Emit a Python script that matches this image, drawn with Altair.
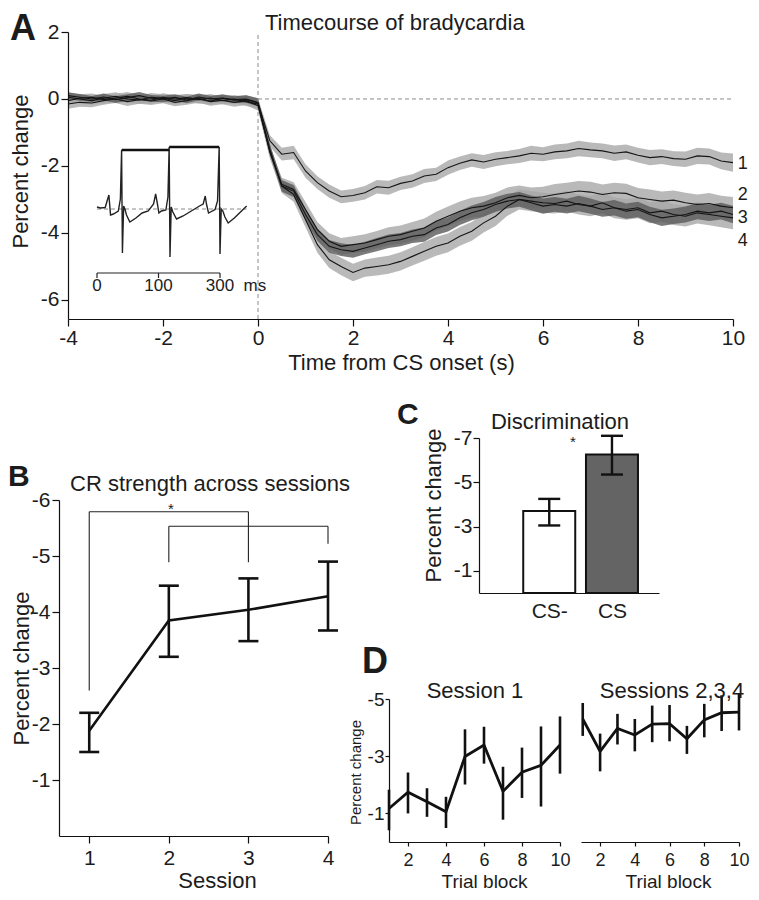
import altair as alt
import pandas as pd

FONT = "Liberation Sans"
INK = "#1c1c1c"

# ---------------- Panel A: timecourse of bradycardia ----------------
time_s = [round(-4 + 0.25 * i, 2) for i in range(57)]

s1_mean = [0.05, 0.0, -0.05, 0.02, 0.08, 0.0, -0.03, 0.05, 0.02, -0.05, 0.03, 0.0, -0.06, 0.02, -0.04, -0.02,
           -0.12, -1.25, -1.65, -1.6, -2.15, -2.5, -2.75, -2.92, -2.88, -2.8, -2.62, -2.65, -2.52, -2.45, -2.3, -2.25,
           -2.05, -1.92, -1.82, -1.88, -1.8, -1.75, -1.7, -1.62, -1.65, -1.58, -1.55, -1.48, -1.52, -1.55, -1.62, -1.58,
           -1.68, -1.75, -1.72, -1.78, -1.8, -1.7, -1.72, -1.85, -1.9]
s2_mean = [-0.05, 0.02, 0.05, -0.02, 0.03, 0.08, 0.0, -0.04, 0.05, 0.0, 0.04, -0.02, 0.03, -0.05, 0.0, -0.08,
           -0.15, -1.6, -2.55, -2.7, -3.3, -3.9, -4.25, -4.4, -4.35, -4.3, -4.2, -4.1, -4.05, -3.95, -3.85, -3.65,
           -3.5, -3.35, -3.25, -3.2, -3.1, -2.95, -2.88, -2.95, -2.92, -2.85, -2.8, -2.75, -2.78, -2.85, -2.8, -2.82,
           -2.95, -3.0, -3.05, -3.02, -3.1, -3.15, -3.12, -3.2, -3.25]
s3_mean = [0.1, 0.05, 0.0, 0.06, -0.02, 0.04, 0.1, 0.02, 0.0, 0.05, -0.03, 0.06, 0.0, 0.03, -0.02, 0.0,
           -0.1, -1.5, -2.6, -2.75, -3.45, -4.05, -4.4, -4.5, -4.55, -4.45, -4.35, -4.25, -4.2, -4.1, -4.05, -3.85,
           -3.75, -3.55, -3.4, -3.3, -3.15, -3.05, -3.0, -3.1, -3.2, -3.15, -3.2, -3.12, -3.2, -3.3, -3.25, -3.35,
           -3.3, -3.45, -3.55, -3.5, -3.45, -3.35, -3.4, -3.35, -3.45]
s4_mean = [-0.15, -0.1, -0.12, -0.05, 0.0, -0.08, -0.02, -0.06, 0.0, -0.1, -0.05, 0.02, -0.08, -0.04, -0.1, -0.05,
           -0.2, -1.55, -2.6, -2.85, -3.6, -4.35, -4.8, -5.0, -5.18, -5.05, -5.0, -4.95, -4.85, -4.7, -4.55, -4.4,
           -4.3, -4.1, -3.95, -3.7, -3.5, -3.2, -3.0, -3.05, -3.1, -3.12, -3.05, -3.15, -3.2, -3.1, -3.25, -3.3,
           -3.25, -3.4, -3.35, -3.45, -3.5, -3.4, -3.45, -3.5, -3.55]

s1_sem = [0.14, 0.13, 0.12, 0.13, 0.12, 0.11, 0.12, 0.13, 0.12, 0.11, 0.12, 0.12, 0.11, 0.12, 0.12, 0.13,
          0.14, 0.17, 0.19, 0.2, 0.2, 0.19, 0.2, 0.19, 0.19, 0.2, 0.2, 0.21, 0.2, 0.2, 0.21, 0.2,
          0.21, 0.2, 0.2, 0.21, 0.21, 0.2, 0.21, 0.22, 0.21, 0.22, 0.22, 0.23, 0.22, 0.22, 0.23, 0.22,
          0.22, 0.23, 0.22, 0.22, 0.23, 0.24, 0.24, 0.25, 0.27]
s2_sem = [0.12, 0.12, 0.11, 0.12, 0.12, 0.13, 0.12, 0.11, 0.12, 0.12, 0.11, 0.12, 0.12, 0.11, 0.12, 0.13,
          0.14, 0.18, 0.2, 0.21, 0.22, 0.23, 0.24, 0.25, 0.25, 0.26, 0.26, 0.27, 0.27, 0.28, 0.28, 0.28,
          0.29, 0.29, 0.3, 0.3, 0.3, 0.31, 0.3, 0.31, 0.3, 0.31, 0.3, 0.3, 0.31, 0.3, 0.3, 0.29,
          0.29, 0.3, 0.29, 0.29, 0.3, 0.3, 0.31, 0.31, 0.32]
s3_sem = [0.1, 0.1, 0.09, 0.1, 0.1, 0.1, 0.11, 0.1, 0.1, 0.09, 0.1, 0.1, 0.1, 0.1, 0.1, 0.11,
          0.12, 0.15, 0.17, 0.18, 0.18, 0.18, 0.19, 0.19, 0.19, 0.19, 0.2, 0.2, 0.2, 0.2, 0.21, 0.21,
          0.21, 0.21, 0.22, 0.22, 0.22, 0.22, 0.22, 0.22, 0.23, 0.22, 0.22, 0.23, 0.23, 0.22, 0.23, 0.23,
          0.23, 0.23, 0.24, 0.23, 0.24, 0.24, 0.24, 0.25, 0.26]
s4_sem = [0.14, 0.13, 0.13, 0.12, 0.12, 0.13, 0.12, 0.12, 0.13, 0.12, 0.12, 0.13, 0.12, 0.12, 0.13, 0.13,
          0.15, 0.19, 0.21, 0.22, 0.23, 0.24, 0.25, 0.26, 0.26, 0.26, 0.27, 0.27, 0.27, 0.27, 0.28, 0.28,
          0.28, 0.28, 0.28, 0.29, 0.29, 0.29, 0.3, 0.3, 0.3, 0.3, 0.31, 0.3, 0.3, 0.31, 0.31, 0.31,
          0.31, 0.31, 0.32, 0.31, 0.31, 0.32, 0.32, 0.33, 0.34]

series_names = ["1", "2", "3", "4"]
band_fill = {"1": "#a8a8a8", "2": "#a8a8a8", "3": "#5a5a5a", "4": "#a8a8a8"}
band_order = ["1", "2", "4", "3"]
end_label_x = [10.1, 10.1, 10.1, 10.1]
end_label_y = [-1.93, -2.86, -3.54, -4.23]

# inset ECG trace (ms, arbitrary units)
ecg_ms = [0, 8, 20, 26, 29, 33, 40, 52, 57, 60, 62, 65, 68, 72, 80, 95, 110, 125, 138, 143, 147, 151, 157, 168,
          173, 176, 178, 181, 185, 194, 210, 230, 250, 259, 264, 267, 272, 288, 294, 298, 300, 303, 307, 312,
          320, 335, 350, 365]
ecg_val = [0.2, 0.1, 0.15, 1.0, 1.4, -0.6, -0.5, -0.2, 1.0, 5.9, -4.4, 0.3, 0.0, -0.6, -1.3, -0.9, -0.4, -0.2,
           0.5, 1.5, 0.6, -0.4, -0.2, -0.1, 1.2, 6.2, -4.8, 0.2, -0.3, -1.0, -0.7, -0.2, 0.3, 0.5, 1.3, 0.5,
           -0.4, -0.05, 0.8, 6.2, -4.5, 0.0, -0.2, -0.8, -1.4, -0.9, -0.3, 0.3]
rr_start = [60, 176]
rr_end = [176, 298]
rr_level = [5.9, 6.2]
inset_base_span = [0, 365]
inset_axis_span = [0, 300]
inset_axis_level = -6.4
inset_ticks = [0, 150, 300]
inset_tick_text = ["0", "100", "300"]
inset_unit_x = [385]

# ---------------- Panel B: CR strength across sessions ----------------
sessions = [1, 2, 3, 4]
b_mean = [-1.88, -3.85, -4.04, -4.28]
b_upper = [-2.2, -4.47, -4.6, -4.9]
b_lower = [-1.5, -3.2, -3.48, -3.67]
br_x = [1, 1, 3, 2, 2, 4]
br_x2 = [1, 3, 3, 2, 4, 4]
br_y = [-2.6, -5.79, -5.79, -4.89, -5.53, -5.53]
br_y2 = [-5.79, -5.79, -4.89, -5.53, -5.53, -5.22]

# ---------------- Panel C: discrimination ----------------
c_cond = ["CS-", "CS"]
c_pos = [1, 2]
c_mean = [-3.7, -6.25]
c_upper = [-4.25, -7.1]
c_lower = [-3.05, -5.35]
c_fill = ["#ffffff", "#646464"]

# ---------------- Panel D: trial blocks ----------------
blocks = [1, 2, 3, 4, 5, 6, 7, 8, 9, 10]
d1_mean = [-1.17, -1.74, -1.41, -1.06, -2.99, -3.39, -1.77, -2.44, -2.68, -3.39]
d1_upper = [-1.83, -2.43, -1.88, -1.58, -3.94, -4.03, -2.63, -3.3, -4.04, -4.39]
d1_lower = [-0.41, -1.0, -0.88, -0.49, -2.01, -2.74, -0.78, -1.54, -1.24, -2.39]
d2_mean = [-4.3, -3.17, -3.97, -3.74, -4.12, -4.14, -3.61, -4.27, -4.52, -4.54]
d2_upper = [-4.86, -3.79, -4.48, -4.3, -4.77, -4.79, -4.06, -4.83, -5.13, -5.19]
d2_lower = [-3.71, -2.47, -3.41, -3.17, -3.49, -3.52, -3.08, -3.66, -3.88, -3.9]

# ---------------- layout (pixels in the single 743x884 canvas) ----------------
W, H = 743, 884
LABEL_EXPR = "toString(datum.value)"


def sc(domain, rng):
    return alt.Scale(domain=domain, range=rng, nice=False, zero=False)


def x_axis(values, title, y_px, title_x, title_y, tick=7, pad=1, lsize=21, tsize=22, expr=LABEL_EXPR):
    return alt.Axis(orient="bottom", offset=-(H - y_px), values=values, title=title, labelExpr=expr,
                    tickSize=tick, labelPadding=pad, labelFontSize=lsize, titleFontSize=tsize,
                    titleX=title_x, titleY=title_y, titleAlign="center", titleBaseline="middle",
                    labelFlush=False, labelOverlap=False, zindex=1)


def y_axis(values, title, x_px, title_x, title_y, tick=7, pad=2, lsize=21, tsize=22):
    return alt.Axis(orient="left", offset=-x_px, values=values, title=title, labelExpr=LABEL_EXPR,
                    tickSize=tick, labelPadding=pad, labelFontSize=lsize, titleFontSize=tsize,
                    titleX=title_x, titleY=title_y, titleAngle=270, titleAlign="center",
                    titleBaseline="middle", labelFlush=False, labelOverlap=False, zindex=1)


def note(text, x, y, size, weight="normal", align="left", baseline="middle"):
    return alt.Chart(pd.DataFrame({"label": [text]})).mark_text(
        align=align, baseline=baseline, fontSize=size, fontWeight=weight, font=FONT, color=INK
    ).encode(x=alt.value(x), y=alt.value(y), text="label:N")


# ================= Panel A =================
xA = sc([-4, 10], [60, 725])
yA = sc([-6.57, 2], [311, 24])
axA_x = x_axis([-4, -2, 0, 2, 4, 6, 8, 10], "Time from CS onset (s)", 311, 393, 43, tick=7, pad=1)
axA_y = y_axis([-6, -4, -2, 0, 2], "Percent change", 60, -48, 163, tick=7, pad=2)


def XA(f):
    return alt.X(f, scale=xA, axis=axA_x)


def YA(f):
    return alt.Y(f, scale=yA, axis=axA_y, stack=None)


rows = []
for name, m, e in zip(series_names, [s1_mean, s2_mean, s3_mean, s4_mean], [s1_sem, s2_sem, s3_sem, s4_sem]):
    for t, mv, ev in zip(time_s, m, e):
        rows.append({"series": name, "t": t, "mean": mv, "lo": round(mv - ev, 3), "hi": round(mv + ev, 3)})
df_a = pd.DataFrame(rows)

bands = [
    alt.Chart(df_a[df_a["series"] == name]).mark_area(color=band_fill[name], opacity=0.8).encode(
        x=XA("t:Q"), y=YA("lo:Q"), y2="hi:Q")
    for name in band_order
]
zero_line = alt.Chart(pd.DataFrame({"x0": [0], "x1": [10], "y": [0]})).mark_rule(
    color="#8a8a8a", strokeDash=[4, 3], strokeWidth=1).encode(x=XA("x0:Q"), x2="x1:Q", y=YA("y:Q"))
onset_line = alt.Chart(pd.DataFrame({"x": [0], "y0": [-6.57], "y1": [2]})).mark_rule(
    color="#8a8a8a", strokeDash=[4, 3], strokeWidth=1).encode(x=XA("x:Q"), y=YA("y0:Q"), y2="y1:Q")
lines_a = alt.Chart(df_a).mark_line(color="#151515", strokeWidth=1.1).encode(
    x=XA("t:Q"), y=YA("mean:Q"), detail="series:N")
end_labels = alt.Chart(pd.DataFrame({"s": series_names, "x": end_label_x, "y": end_label_y})).mark_text(
    align="left", baseline="middle", fontSize=18, font=FONT, color=INK
).encode(x=XA("x:Q"), y=YA("y:Q"), text="s:N")
mainA = alt.layer(*bands, zero_line, onset_line, lines_a, end_labels)

xI = sc([0, 300], [89, 212])
yI = sc([-9, 7], [291, 131])


def XI(f):
    return alt.X(f, scale=xI, axis=None)


def YI(f):
    return alt.Y(f, scale=yI, axis=None)


ecg = alt.Chart(pd.DataFrame({"ms": ecg_ms, "v": ecg_val})).mark_line(color="#222222", strokeWidth=1.4).encode(
    x=XI("ms:Q"), y=YI("v:Q"))
rr = alt.Chart(pd.DataFrame({"a": rr_start, "b": rr_end, "v": rr_level})).mark_rule(
    color="#111111", strokeWidth=2.4).encode(x=XI("a:Q"), x2="b:Q", y=YI("v:Q"))
inset_base = alt.Chart(pd.DataFrame({"a": [inset_base_span[0]], "b": [inset_base_span[1]], "v": [0]})).mark_rule(
    color="#8a8a8a", strokeDash=[4, 3], strokeWidth=1).encode(x=XI("a:Q"), x2="b:Q", y=YI("v:Q"))
inset_axis = alt.Chart(pd.DataFrame({"a": [inset_axis_span[0]], "b": [inset_axis_span[1]],
                                     "v": [inset_axis_level]})).mark_rule(color="#222222", strokeWidth=1.2).encode(
    x=XI("a:Q"), x2="b:Q", y=YI("v:Q"))
inset_tickmarks = alt.Chart(pd.DataFrame({"m": inset_ticks, "v0": [inset_axis_level] * 3,
                                          "v1": [inset_axis_level - 0.5] * 3})).mark_rule(
    color="#222222", strokeWidth=1.2).encode(x=XI("m:Q"), y=YI("v0:Q"), y2="v1:Q")
inset_ticklabels = alt.Chart(pd.DataFrame({"m": inset_ticks, "t": inset_tick_text,
                                           "v": [-7.7] * 3})).mark_text(
    fontSize=17, font=FONT, color=INK, baseline="middle").encode(x=XI("m:Q"), y=YI("v:Q"), text="t:N")
inset_unit = alt.Chart(pd.DataFrame({"m": inset_unit_x, "t": ["ms"], "v": [-7.7]})).mark_text(
    fontSize=17, font=FONT, color=INK, baseline="middle").encode(x=XI("m:Q"), y=YI("v:Q"), text="t:N")
insetA = alt.layer(inset_base, ecg, rr, inset_axis, inset_tickmarks, inset_ticklabels, inset_unit)

# ================= Panel B =================
B_BOTTOM = 828
xB = sc([0.62, 4], [51, 320])
yB = sc([-6, 0], [492, B_BOTTOM])
axB_x = x_axis(sessions, "Session", B_BOTTOM, 209, 44, tick=7, pad=4)
axB_y = y_axis([-6, -5, -4, -3, -2, -1], "Percent change", 51, -38, 660, tick=7, pad=2)


def XB(f):
    return alt.X(f, scale=xB, axis=axB_x)


def YB(f):
    return alt.Y(f, scale=yB, axis=axB_y)


dfB = pd.DataFrame({"session": sessions, "mean": b_mean, "upper": b_upper, "lower": b_lower})
lineB = alt.Chart(dfB).mark_line(color="#111111", strokeWidth=2.6).encode(x=XB("session:Q"), y=YB("mean:Q"))
errB = alt.Chart(dfB).mark_rule(color="#111111", strokeWidth=2.6).encode(
    x=XB("session:Q"), y=YB("upper:Q"), y2="lower:Q")
capB_u = alt.Chart(dfB).mark_tick(orient="horizontal", size=20, thickness=2.6, color="#111111", opacity=1).encode(
    x=XB("session:Q"), y=YB("upper:Q"))
capB_l = alt.Chart(dfB).mark_tick(orient="horizontal", size=20, thickness=2.6, color="#111111", opacity=1).encode(
    x=XB("session:Q"), y=YB("lower:Q"))
brackets = alt.Chart(pd.DataFrame({"x": br_x, "x2": br_x2, "y": br_y, "y2": br_y2})).mark_rule(
    color="#222222", strokeWidth=1.1).encode(x=XB("x:Q"), x2="x2:Q", y=YB("y:Q"), y2="y2:Q")
starB = alt.Chart(pd.DataFrame({"x": [2.025], "y": [-5.745], "t": ["*"]})).mark_text(
    fontSize=15, font=FONT, color=INK, baseline="alphabetic").encode(x=XB("x:Q"), y=YB("y:Q"), text="t:N")
panelB = alt.layer(lineB, brackets, errB, capB_u, capB_l, starB)

# ================= Panel C =================
xC = sc([-0.04, 2.67], [471, 651])
yC = sc([-7, 0], [430, 585])
axC_x = alt.Axis(orient="bottom", offset=-(H - 585), values=c_pos, labelExpr="datum.value == 1 ? 'CS-' : 'CS'",
                 ticks=False, tickSize=0, labelPadding=7, labelFontSize=21, title=None, labelFlush=False,
                 labelOverlap=False, zindex=1)
axC_y = y_axis([-7, -5, -3, -1], "Percent change", 471, -46, 497, tick=6, pad=1)


def XC(f):
    return alt.X(f, scale=xC, axis=axC_x)


def YC(f):
    return alt.Y(f, scale=yC, axis=axC_y)


dfC = pd.DataFrame({"cond": c_cond, "pos": c_pos, "mean": c_mean, "upper": c_upper, "lower": c_lower,
                    "base": [0, 0]})
barsC = alt.Chart(dfC).mark_bar(size=52, stroke="#111111", strokeWidth=2, opacity=1).encode(
    x=XC("pos:Q"), y=YC("mean:Q"), y2="base:Q",
    color=alt.Color("cond:N", scale=alt.Scale(domain=c_cond, range=c_fill), legend=None))
errC = alt.Chart(dfC).mark_rule(color="#111111", strokeWidth=2.4).encode(
    x=XC("pos:Q"), y=YC("upper:Q"), y2="lower:Q")
capC_u = alt.Chart(dfC).mark_tick(orient="horizontal", size=22, thickness=2.4, color="#111111", opacity=1).encode(
    x=XC("pos:Q"), y=YC("upper:Q"))
capC_l = alt.Chart(dfC).mark_tick(orient="horizontal", size=22, thickness=2.4, color="#111111", opacity=1).encode(
    x=XC("pos:Q"), y=YC("lower:Q"))
starC = alt.Chart(pd.DataFrame({"x": [1.376], "y": [-6.6], "t": ["*"]})).mark_text(
    fontSize=15, font=FONT, color=INK, baseline="alphabetic").encode(x=XC("x:Q"), y=YC("y:Q"), text="t:N")
panelC = alt.layer(barsC, errC, capC_u, capC_l, starC)

# ================= Panel D =================
D_TOP, D_BOTTOM = 691, 834


def d_panel(mean, upper, lower, xdomain, xrange, y_axis_def, tb_x):
    xs = sc(xdomain, xrange)
    ys = sc([-5, 0], [D_TOP, D_BOTTOM])
    ax_x = x_axis([2, 4, 6, 8, 10], "Trial block", D_BOTTOM, tb_x, 39, tick=4, pad=5, lsize=18, tsize=19)
    df = pd.DataFrame({"block": blocks, "mean": mean, "upper": upper, "lower": lower})
    line = alt.Chart(df).mark_line(color="#111111", strokeWidth=2.8).encode(
        x=alt.X("block:Q", scale=xs, axis=ax_x), y=alt.Y("mean:Q", scale=ys, axis=y_axis_def))
    err = alt.Chart(df).mark_rule(color="#111111", strokeWidth=2.6).encode(
        x=alt.X("block:Q", scale=xs, axis=ax_x), y=alt.Y("upper:Q", scale=ys, axis=y_axis_def), y2="lower:Q")
    return alt.layer(line, err)


axD1_y = y_axis([-5, -3, -1], "Percent change", 381, -34, 764, tick=4, pad=1, lsize=19, tsize=15)
panelD1 = d_panel(d1_mean, d1_upper, d1_lower, [1, 10], [381, 552], axD1_y, 476)
panelD2 = d_panel(d2_mean, d2_upper, d2_lower, [0.9, 10], [573, 731], None, 660)

# ================= annotations (titles, panel letters) =================
notes = alt.layer(
    note("A", 2, 4, 36, weight="bold", baseline="top"),
    note("Timecourse of bradycardia", 257, 15, 22),
    note("B", 0, 454, 30, weight="bold", baseline="top"),
    note("CR strength across sessions", 202, 476, 22, align="center"),
    note("C", 389, 392, 30, weight="bold", baseline="top"),
    note("Discrimination", 552, 414, 22, align="center"),
    note("D", 354, 637, 36, weight="bold", baseline="top"),
    note("Session 1", 467, 683, 22, align="center"),
    note("Sessions 2,3,4", 664, 683, 22, align="center"),
)

chart = alt.layer(mainA, insetA, panelB, panelC, panelD1, panelD2, notes).resolve_scale(
    x="independent", y="independent"
).properties(
    width=W, height=H, padding=0, autosize=alt.AutoSizeParams(type="none")
).configure_view(
    stroke=None
).configure_axis(
    labelFont=FONT, titleFont=FONT, labelColor=INK, titleColor=INK,
    titleFontWeight="normal", domainColor="#111111", tickColor="#111111", domainWidth=1.2, tickWidth=1.2,
    grid=False
).configure_text(font=FONT)

chart.save("out.html", embed_options={"renderer": "svg", "actions": False})
